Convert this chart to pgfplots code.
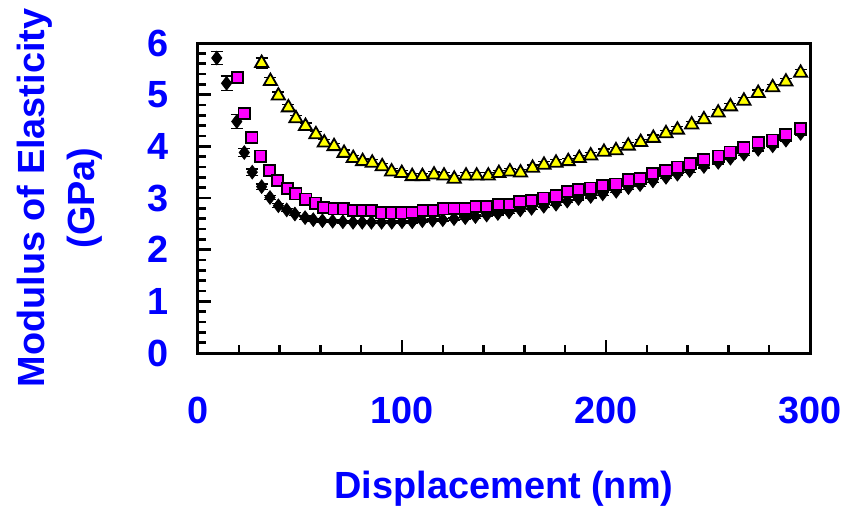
\documentclass[border=0pt]{standalone}
\usepackage{pgfplots}
\pgfplotsset{compat=1.18}
\usepackage{pgfplotstable}
\usepackage{fontspec}
\setmainfont{Liberation Sans}
\definecolor{myblue}{RGB}{0,0,255}
\definecolor{mymag}{RGB}{255,0,255}
\definecolor{myyel}{RGB}{255,255,0}

\pgfplotstableread{
x y e
9.2 5.71 0.12
14 5.22 0.14
19 4.48 0.14
22.7 3.88 0.08
26.6 3.50 0.06
31.2 3.22 0.05
35.3 3.01 0.04
39.4 2.85 0.04
43.5 2.77 0.03
47.5 2.69 0.03
52.5 2.62 0.03
56.5 2.58 0.03
61 2.56 0.03
66 2.55 0.03
71 2.54 0.03
76 2.53 0.03
80.5 2.53 0.03
85 2.53 0.03
90 2.53 0.03
95 2.53 0.03
100 2.54 0.03
105 2.54 0.03
110 2.56 0.03
115 2.57 0.03
120 2.58 0.03
125.5 2.60 0.03
131 2.62 0.03
136 2.64 0.03
141.5 2.67 0.03
147 2.70 0.03
152.5 2.73 0.03
158 2.77 0.03
163.5 2.80 0.03
169.5 2.84 0.03
175.5 2.88 0.03
181 2.94 0.03
186.5 2.99 0.03
192.5 3.03 0.03
198.4 3.08 0.03
205 3.13 0.03
211 3.20 0.03
216.7 3.26 0.03
223 3.33 0.03
229.4 3.40 0.03
235 3.46 0.03
241 3.53 0.03
248 3.61 0.03
255 3.69 0.03
261 3.77 0.03
267.6 3.85 0.03
274.6 3.94 0.03
281.7 4.01 0.03
288.2 4.12 0.03
295.4 4.25 0.03
}\diamonddata

\pgfplotstableread{
x y e
19.3 5.33 0.10
22.6 4.64 0.08
26.4 4.17 0.06
30.7 3.81 0.05
35.0 3.53 0.05
39.1 3.34 0.04
43.8 3.18 0.04
48.0 3.08 0.04
52.9 2.98 0.04
57.6 2.90 0.04
61.7 2.82 0.04
66.7 2.79 0.04
71.2 2.79 0.04
76.1 2.76 0.04
80.5 2.76 0.04
85.1 2.76 0.04
90.0 2.71 0.04
94.9 2.71 0.04
99.9 2.71 0.04
105.0 2.72 0.04
110.3 2.76 0.04
115.4 2.76 0.04
120.3 2.79 0.04
125.5 2.80 0.04
130.9 2.80 0.04
136.3 2.84 0.04
141.5 2.84 0.04
147.2 2.88 0.04
152.6 2.88 0.04
157.8 2.93 0.04
163.6 2.95 0.04
169.4 3.00 0.04
175.5 3.04 0.04
181.0 3.13 0.04
186.4 3.17 0.04
192.5 3.19 0.04
198.4 3.24 0.04
204.9 3.27 0.04
210.9 3.35 0.04
216.7 3.38 0.04
222.9 3.47 0.04
229.4 3.53 0.04
235.0 3.60 0.04
241.2 3.66 0.04
248.0 3.75 0.04
255.0 3.81 0.04
260.8 3.89 0.04
267.6 3.97 0.04
274.6 4.07 0.04
281.7 4.12 0.04
288.2 4.23 0.04
295.4 4.35 0.04
}\squaredata

\pgfplotstableread{
x y e
31.2 5.61 0.10
35.5 5.26 0.08
39.4 4.98 0.07
44.3 4.75 0.06
48.0 4.54 0.06
52.7 4.39 0.06
57.8 4.23 0.06
61.9 4.07 0.06
66.7 4.00 0.06
71.6 3.87 0.06
76.1 3.77 0.06
80.7 3.71 0.06
85.4 3.68 0.06
90.3 3.61 0.06
94.9 3.51 0.06
99.9 3.48 0.06
105.0 3.42 0.06
110.0 3.42 0.06
115.7 3.45 0.06
120.6 3.43 0.06
125.6 3.37 0.06
131.4 3.43 0.06
136.6 3.43 0.06
142.3 3.43 0.06
147.5 3.48 0.06
152.9 3.51 0.06
158.1 3.49 0.06
164.0 3.58 0.06
169.6 3.64 0.06
175.5 3.68 0.06
181.5 3.71 0.06
186.9 3.77 0.06
192.5 3.82 0.06
199.0 3.89 0.06
204.9 3.92 0.06
210.9 4.01 0.06
217.0 4.08 0.06
223.2 4.16 0.06
229.4 4.25 0.06
235.0 4.32 0.06
242.0 4.42 0.06
248.0 4.52 0.06
255.0 4.65 0.06
261.0 4.77 0.06
267.6 4.88 0.06
274.6 5.03 0.06
281.7 5.14 0.06
288.2 5.25 0.06
295.4 5.42 0.06
}\triangledata

\begin{document}
\begin{tikzpicture}
\begin{axis}[
  scale only axis,
  width=612bp, height=310bp,
  at={(0,0)}, anchor=south west,
  xmin=0, xmax=300, ymin=0, ymax=6,
  xtick={0,100,200,300}, ytick={0,1,2,3,4,5,6},
  minor x tick num=4, minor y tick num=4,
  xtick pos=left, ytick pos=left,
  tick align=inside,
  major tick length=13bp, minor tick length=8bp,
  every tick/.style={black, line width=2.5bp},
  axis line style={line width=3bp, black},
  /pgf/number format/assume math mode=true,
  tick label style={font=\fontsize{38}{40}\selectfont\bfseries, text=myblue, inner sep=0pt},
  xticklabel style={anchor=north, yshift=-44bp},
  yticklabel style={anchor=east, xshift=-29bp},
  label style={font=\fontsize{38}{50}\selectfont\bfseries, text=myblue},
  xlabel={Displacement (nm)},
  ylabel={Modulus of Elasticity\\(GPa)},
  xlabel style={at={(axis description cs:0.5,-0.4387)}, anchor=center},
  ylabel style={at={(axis description cs:-0.2255,0.5)}, anchor=center, align=center},
  error bars/error bar style={line width=1.2bp, black},
  error bars/error mark options={line width=1.2bp, black, mark size=6bp, rotate=90},
]
\addplot[only marks, mark=diamond*, mark size=6.8bp, mark options={fill=black, draw=black, line width=0.8bp},
  error bars/.cd, y dir=both, y explicit]
  table[x=x, y=y, y error=e] {\diamonddata};
\addplot[only marks, mark=square*, mark size=5.6bp, mark options={fill=mymag, draw=black, line width=1.8bp},
  error bars/.cd, y dir=both, y explicit]
  table[x=x, y=y, y error=e] {\squaredata};
\addplot[only marks, mark=triangle*, mark size=7.6bp, mark options={fill=myyel, draw=black, line width=1.8bp},
  error bars/.cd, y dir=both, y explicit]
  table[x=x, y=y, y error=e] {\triangledata};
\end{axis}
\pgfresetboundingbox
\path[use as bounding box] (-198bp,-155bp) rectangle (657bp,353bp);
\end{tikzpicture}
\end{document}
